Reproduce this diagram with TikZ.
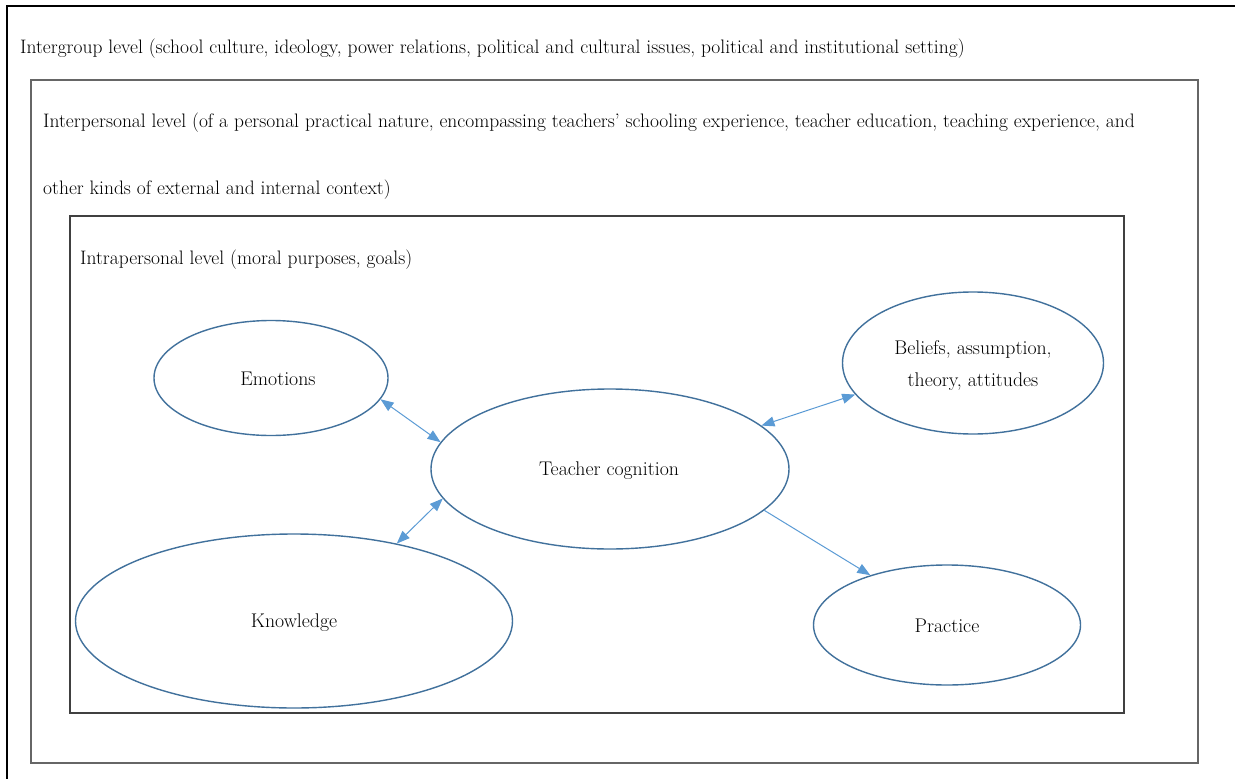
\documentclass[tikz,border=0pt]{standalone}
\usepackage{fontspec}
\usetikzlibrary{shapes.geometric,arrows.meta}
\tikzset{
  leveltext/.style={anchor=base west, inner sep=0pt, font=\fontsize{19.5}{24}\selectfont},
  bubble/.style={ellipse, draw=bubbleline, line width=1.4pt, inner sep=0pt},
  bubbletext/.style={inner sep=0pt, font=\fontsize{19.8}{32}\selectfont, align=center},
  link/.style={draw=linkblue, line width=1pt, -{Triangle[length=13pt,width=10pt]}},
  twoway/.style={link, {Triangle[length=13pt,width=10pt]}-{Triangle[length=13pt,width=10pt]}},
}
\definecolor{bubbleline}{HTML}{41719C}
\definecolor{linkblue}{HTML}{5B9BD5}
\begin{document}
\begin{tikzpicture}[x=1pt,y=-1pt]
\useasboundingbox (0,0) rectangle (1235,779);
\fill[white] (0,0) rectangle (1235,779);

% nested level frames
\draw[black, line width=1.6pt] (7,779) -- (7,6) -- (1235,6);
\draw[black!60, line width=2pt] (31,80) rectangle (1198,763);
\draw[black!75, line width=1.5pt] (70,216) rectangle (1124,713);

% level captions
\node[leveltext] (intergroup) at (20,53) {Intergroup level (school culture, ideology, power relations, political and cultural issues, political and institutional setting)};
\node[leveltext] (interp1) at (43,127) {Interpersonal level (of a personal practical nature, encompassing teachers’ schooling experience, teacher education, teaching experience, and};
\node[leveltext] (interp2) at (43,194) {other kinds of external and internal context)};
\node[leveltext] (intrap) at (80,264) {Intrapersonal level (moral purposes, goals)};

% concept ellipses
\node[bubble, minimum width=234pt, minimum height=115pt] (emo) at (271,378) {};
\node[bubble, minimum width=358pt, minimum height=160pt] (tc) at (610,469) {};
\node[bubble, minimum width=261pt, minimum height=142pt] (bel) at (973,363) {};
\node[bubble, minimum width=437pt, minimum height=174pt] (kno) at (294,621) {};
\node[bubble, minimum width=267pt, minimum height=120pt] (pra) at (947,625) {};

\node[bubbletext] (emoT) at (278,379) {Emotions};
\node[bubbletext] (tcT) at (609,471) {Teacher cognition};
\node[bubbletext] (belT) at (973,366) {Beliefs, assumption,\\theory, attitudes};
\node[bubbletext] (knoT) at (294,623) {Knowledge};
\node[bubbletext] (praT) at (947,626) {Practice};

% relations
\draw[twoway] (emo.-11) -- (tc.171.7);
\draw[twoway] (kno.37) -- (tc.-170.4);
\draw[twoway] (tc.16.4) -- (bel.-165.6);
\draw[link] (tc.-15) -- (pra.147.5);
\end{tikzpicture}
\end{document}
